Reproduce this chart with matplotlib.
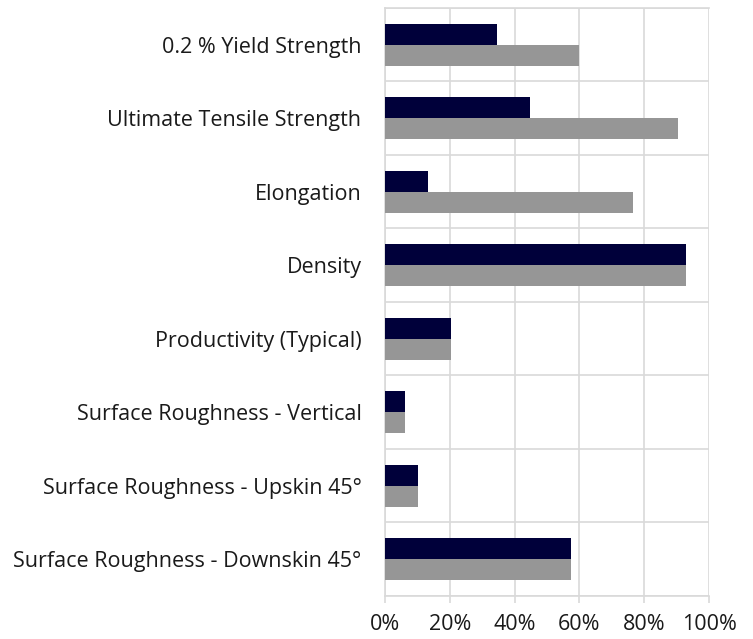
import numpy as np
import matplotlib.pyplot as plt
from matplotlib.ticker import FixedLocator, PercentFormatter

plt.rcParams['font.family'] = ['Open Sans', 'DejaVu Sans']

categories = [
    "0.2 % Yield Strength",
    "Ultimate Tensile Strength",
    "Elongation",
    "Density",
    "Productivity (Typical)",
    "Surface Roughness - Vertical",
    "Surface Roughness - Upskin 45°",
    "Surface Roughness - Downskin 45°",
]
dark_values = [34.7, 44.6, 13.3, 93.0, 20.4, 6.2, 10.2, 57.3]
grey_values = [60.0, 90.4, 76.5, 93.0, 20.4, 6.2, 10.2, 57.3]

DARK = "#00003a"
GREY = "#969696"
GRID = "#d9d9d9"

n = len(categories)
y = np.arange(n)[::-1]
h = 0.286

fig = plt.figure(figsize=(7.53, 6.39), dpi=100)
ax = fig.add_axes([0.5113, 0.0673, 0.9416 - 0.5113, 0.9875 - 0.0673])

ax.barh(y + h / 2, dark_values, height=h, color=DARK, zorder=3)
ax.barh(y - h / 2, grey_values, height=h, color=GREY, zorder=3)

ax.set_xlim(0, 100)
ax.set_ylim(-0.5, n - 0.5)
ax.set_xticks(np.arange(0, 101, 20))
ax.xaxis.set_major_formatter(PercentFormatter(decimals=0))
ax.set_yticks(y)
ax.set_yticklabels(categories)
ax.yaxis.set_minor_locator(FixedLocator(np.arange(-0.5, n, 1.0)))

ax.grid(axis='x', which='major', color=GRID, linewidth=1.2, zorder=0)
ax.grid(axis='y', which='minor', color=GRID, linewidth=1.2, zorder=0)

ax.spines['right'].set_visible(False)
for side in ['left', 'bottom', 'top']:
    ax.spines[side].set_color(GRID)
    ax.spines[side].set_linewidth(1.2)

ax.tick_params(axis='y', which='both', length=0, pad=17, labelsize=15.5, labelcolor='#1a1a1a')
ax.tick_params(axis='x', which='major', length=5, width=1.2, color=GRID, pad=8,
               labelsize=15.5, labelcolor='#1a1a1a')

fig.savefig("out.png", dpi=100)
